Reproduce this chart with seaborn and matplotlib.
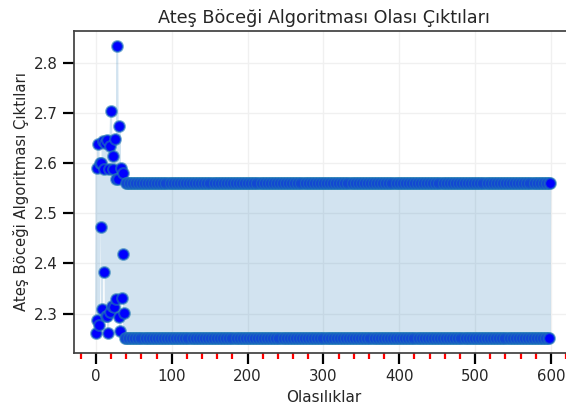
import numpy as np
import pandas as pd
import seaborn as sns
import matplotlib.pyplot as plt
from matplotlib.ticker import MultipleLocator

# values
early_y = [2.261, 2.590, 2.287, 2.638, 2.278, 2.601, 2.472, 2.601, 2.309, 2.645,
           2.382, 2.589, 2.640, 2.296, 2.296, 2.646, 2.261, 2.589, 2.303, 2.635,
           2.704, 2.316, 2.615, 2.589, 2.313, 2.648, 2.568, 2.329, 2.834, 2.568,
           2.293, 2.673, 2.265, 2.591, 2.331, 2.419, 2.581, 2.301]
tail_pair = [2.2505, 2.5605]   # the output keeps jumping between these two
tail_y = tail_pair * 281

y_vals = early_y + tail_y
x_vals = list(range(len(y_vals)))

title = "Ateş Böceği Algoritması Olası Çıktıları"
xlabel = "Olasılıklar"
ylabel = "Ateş Böceği Algoritması Çıktıları"

df = pd.DataFrame({"x": x_vals, "y": y_vals})

sns.set_theme(style="whitegrid", context="notebook",
              rc={"grid.color": "#f0f0f0", "axes.edgecolor": ".25",
                  "xtick.bottom": True, "ytick.left": True})
plt.rcParams["font.family"] = ["DejaVu Sans"]

fig = plt.figure(figsize=(5.66, 4.08), dpi=100)
# the right edge of the axes sits just past the picture edge
ax = fig.add_axes([0.1307, 0.1348, 0.8816, 0.789])

sns.lineplot(data=df, x="x", y="y", ax=ax, color="#1f77b4", alpha=0.2,
             linewidth=1.5)
sns.scatterplot(data=df, x="x", y="y", ax=ax, color="blue", s=60,
                edgecolor=(0.12, 0.47, 0.71, 0.6), linewidth=1.5, zorder=3)

ax.set_xlim(-29, 629)
ax.set_title(title, fontsize=12.7)
ax.set_xlabel(xlabel, fontsize=11)
ax.set_ylabel(ylabel, fontsize=10.7)
ax.tick_params(axis="both", which="major", labelsize=10.8, length=8, width=1.6,
               color="black")
ax.xaxis.set_minor_locator(MultipleLocator(20))
ax.tick_params(axis="x", which="minor", length=4, width=1.6, color="red",
               bottom=True)
ax.spines["right"].set_visible(False)

fig.savefig("out.png", dpi=100)
